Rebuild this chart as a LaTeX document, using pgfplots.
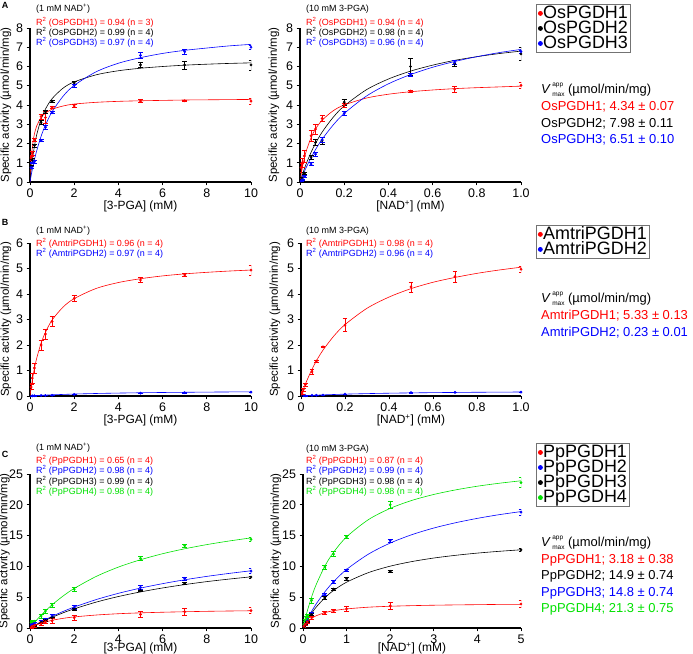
\documentclass[border=0pt]{standalone}
\usepackage{pgfplots}
\pgfplotsset{compat=1.18}
\usepackage{fontspec}
\setmainfont{Liberation Sans}
\definecolor{gr}{RGB}{0,225,0}
\newcommand\tl{\fontsize{12.5}{12.5}\selectfont}
\newcommand\lb{\fontsize{12}{12}\selectfont}
\newcommand\an{\fontsize{9}{9}\selectfont}
\newcommand\vm{\fontsize{13}{13}\selectfont}
\newcommand\sm{\fontsize{6.5}{6.5}\selectfont}
\newcommand\Vapp{\textit{V}\kern1.5pt\makebox[0pt][l]{\raisebox{6.3pt}{\sm app}}\raisebox{-3.5pt}{\sm max}}
\pgfplotsset{
 base/.style={scale only axis, anchor=south west, axis x line*=bottom, axis y line*=left,
  axis line style={line width=1.5pt}, every tick/.style={black, line width=0.9pt},
  tick align=outside, major tick length=3.5pt, xmin=0, ymin=0,
  tick label style={font=\tl},
  xlabel style={font=\lb, yshift=4bp},
  ylabel style={font=\fontsize{11.5}{11.5}\selectfont}},
 dat/.style={only marks, mark=*, mark size=1.2pt, color=#1, forget plot,
  error bars/.cd, y dir=both, y explicit, error bar style={line width=0.5pt, #1},
  error mark=-, error mark options={rotate=90, line width=0.5pt, mark size=2.5pt, #1}},
 fit/.style={no markers, color=#1, line width=0.6pt, smooth, forget plot},
 leg/.style={legend style={draw=black!55, line width=0.8pt, font=\fontsize{18}{18}\selectfont,
  inner xsep=2pt, inner ysep=1.5pt, row sep=0pt, anchor=north west,
  nodes={inner sep=0.8pt, text height=12pt, text depth=1.5pt}},
  legend cell align=left,
  legend image code/.code={\draw[mark repeat=2,mark phase=2,##1] plot coordinates {(0pt,0pt) (5pt,0pt) (10pt,0pt)};}},
}
\begin{document}
\begin{tikzpicture}
\path[use as bounding box] (0bp,0bp) rectangle (693bp,-654bp);
% ---------------- A left
\begin{axis}[base, at={(30bp,-182bp)}, width=221bp, height=154bp, xmax=10, ymax=8,
 xtick={0,2,4,6,8,10}, xticklabels={0,2,4,6,8,10}, ytick={0,1,2,3,4,5,6,7,8}, yticklabels={0,1,2,3,4,5,6,7,8},
 xlabel={[3-PGA] (mM)}, ylabel={Specific activity (µmol/min/mg)}, ylabel shift=-2bp]
\addplot[fit=red] coordinates {(0,0) (0.02,0.51) (0.05,1.09) (0.1,1.74) (0.15,2.18) (0.2,2.49) (0.3,2.90) (0.5,3.35) (0.7,3.58) (1,3.78) (1.5,3.95) (2,4.05) (3,4.14) (4,4.19) (5,4.22) (6,4.24) (7,4.26) (8,4.27) (9,4.28) (10,4.29)};
\addplot[fit=black] coordinates {(0,0) (0.05,0.59) (0.1,1.08) (0.2,1.86) (0.3,2.44) (0.5,3.25) (0.7,3.79) (1,4.33) (1.5,4.88) (2,5.2) (3,5.57) (4,5.78) (5,5.91) (6,6.0) (7,6.07) (8,6.12) (9,6.16) (10,6.19)};
\addplot[fit=blue] coordinates {(0,0) (0.05,0.32) (0.1,0.62) (0.2,1.15) (0.3,1.61) (0.5,2.37) (0.7,2.96) (1,3.65) (1.5,4.46) (2,5.02) (3,5.73) (4,6.17) (5,6.46) (6,6.68) (7,6.84) (8,6.96) (9,7.07) (10,7.15)};
\addplot[dat=red] table[row sep=\\, x index=0, y index=1, y error index=2] {
0.05 1.25 0.1\\ 0.1 1.5 0.1\\ 0.2 2.2 0.08\\ 0.5 3.4 0.12\\ 0.7 3.35 0.3\\ 1 3.88 0.05\\ 2 3.95 0.08\\ 5 4.2 0.08\\ 7 4.22 0.04\\ 10 4.2 0.15\\};
\addplot[dat=black] table[row sep=\\, x index=0, y index=1, y error index=2] {
0.05 0.8 0.08\\ 0.1 1.15 0.1\\ 0.2 1.9 0.08\\ 0.5 3.1 0.1\\ 0.7 3.65 0.08\\ 1 4.2 0.05\\ 2 5.15 0.08\\ 5 6.08 0.12\\ 7 6.08 0.2\\ 10 6.08 0.25\\};
\addplot[dat=blue] table[row sep=\\, x index=0, y index=1, y error index=2] {
0.05 0.75 0.06\\ 0.1 1.0 0.05\\ 0.2 1.05 0.06\\ 0.5 2.15 0.05\\ 0.7 2.85 0.1\\ 1 3.6 0.05\\ 2 5.02 0.08\\ 5 6.58 0.15\\ 7 6.77 0.12\\ 10 7.0 0.1\\};
\end{axis}
% ---------------- A right
\begin{axis}[base, leg, legend style={at={(rel axis cs:1.068,1.156)}}, at={(300bp,-182bp)}, width=221bp, height=154bp, xmax=1, ymax=8,
 xtick={0,0.2,0.4,0.6,0.8,1}, xticklabels={0,0.2,0.4,0.6,0.8,1.0}, ytick={0,1,2,3,4,5,6,7,8}, yticklabels={0,1,2,3,4,5,6,7,8},
 xlabel={[NAD\textsuperscript{+}] (mM)}, ylabel={Specific activity (µmol/min/mg)}]
\addlegendimage{only marks, mark=*, mark size=2pt, red}\addlegendentry{OsPGDH1}
\addlegendimage{only marks, mark=*, mark size=2pt, black}\addlegendentry{OsPGDH2}
\addlegendimage{only marks, mark=*, mark size=2pt, blue}\addlegendentry{OsPGDH3}
\addplot[fit=red] coordinates {(0,0) (0.01,0.71) (0.02,1.25) (0.03,1.67) (0.05,2.30) (0.07,2.75) (0.1,3.21) (0.15,3.70) (0.2,4.0) (0.3,4.36) (0.4,4.56) (0.5,4.69) (0.6,4.78) (0.7,4.85) (0.8,4.90) (0.9,4.94) (1.0,4.98)};
\addplot[fit=black] coordinates {(0,0) (0.01,0.36) (0.02,0.69) (0.03,1.0) (0.05,1.54) (0.07,2.0) (0.1,2.59) (0.15,3.36) (0.2,3.95) (0.3,4.79) (0.4,5.35) (0.5,5.76) (0.6,6.07) (0.7,6.32) (0.8,6.51) (0.9,6.67) (1.0,6.80)};
\addplot[fit=blue] coordinates {(0,0) (0.01,0.28) (0.02,0.55) (0.03,0.80) (0.05,1.26) (0.07,1.68) (0.1,2.22) (0.15,2.96) (0.2,3.56) (0.3,4.46) (0.4,5.10) (0.5,5.58) (0.6,5.96) (0.7,6.26) (0.8,6.51) (0.9,6.72) (1.0,6.89)};
\addplot[dat=red] table[row sep=\\, x index=0, y index=1, y error index=2] {
0.005 0.75 0.25\\ 0.01 1.0 0.25\\ 0.02 1.35 0.3\\ 0.05 2.4 0.3\\ 0.07 2.75 0.25\\ 0.1 3.3 0.15\\ 0.2 4.0 0.1\\ 0.5 4.72 0.05\\ 0.7 4.82 0.15\\ 1.0 5.02 0.15\\};
\addplot[dat=black] table[row sep=\\, x index=0, y index=1, y error index=2] {
0.005 0.1 0.05\\ 0.01 0.2 0.05\\ 0.02 0.45 0.05\\ 0.05 1.3 0.1\\ 0.07 2.05 0.15\\ 0.1 2.15 0.2\\ 0.2 4.15 0.15\\ 0.5 6.0 0.45\\ 0.7 6.15 0.15\\ 1.0 6.65 0.35\\};
\addplot[dat=blue] table[row sep=\\, x index=0, y index=1, y error index=2] {
0.005 0.05 0.03\\ 0.01 0.12 0.03\\ 0.02 0.28 0.05\\ 0.05 0.93 0.08\\ 0.07 1.45 0.1\\ 0.1 2.2 0.15\\ 0.2 3.57 0.08\\ 0.5 5.55 0.08\\ 0.7 6.22 0.12\\ 1.0 6.77 0.1\\};
\end{axis}
% ---------------- B left
\begin{axis}[base, at={(30bp,-396bp)}, width=221bp, height=153bp, xmax=10, ymax=6,
 xtick={0,2,4,6,8,10}, xticklabels={0,2,4,6,8,10}, ytick={0,1,2,3,4,5,6}, yticklabels={0,1,2,3,4,5,6},
 xlabel={[3-PGA] (mM)}, ylabel={Specific activity (µmol/min/mg)}, ylabel shift=-2bp]
\addplot[fit=red] coordinates {(0,0) (0.05,0.32) (0.1,0.60) (0.2,1.08) (0.3,1.47) (0.5,2.07) (0.7,2.50) (1,2.98) (1.5,3.49) (2,3.82) (3,4.22) (4,4.45) (5,4.60) (6,4.71) (7,4.79) (8,4.85) (9,4.90) (10,4.94)};
\addplot[fit=blue] coordinates {(0,0) (0.1,0.006) (0.2,0.011) (0.5,0.026) (1,0.046) (2,0.077) (3,0.099) (4,0.115) (5,0.128) (6,0.138) (7,0.146) (8,0.153) (9,0.159) (10,0.164)};
\addplot[dat=red] table[row sep=\\, x index=0, y index=1, y error index=2] {
0.05 0.35 0.1\\ 0.1 0.7 0.2\\ 0.2 1.1 0.2\\ 0.5 2.0 0.2\\ 0.7 2.43 0.2\\ 1 2.92 0.2\\ 2 3.83 0.12\\ 5 4.55 0.1\\ 7 4.75 0.07\\ 10 4.94 0.2\\};
\addplot[dat=blue] table[row sep=\\, x index=0, y index=1, y error index=2] {
0.1 0.005 0.005\\ 0.2 0.01 0.005\\ 0.5 0.02 0.005\\ 0.7 0.02 0.005\\ 1 0.03 0.01\\ 2 0.06 0.01\\ 5 0.11 0.01\\ 7 0.13 0.01\\ 10 0.15 0.01\\};
\end{axis}
% ---------------- B right
\begin{axis}[base, leg, legend style={at={(rel axis cs:1.068,1.118)}}, at={(301bp,-396bp)}, width=220bp, height=153bp, xmax=1, ymax=6,
 xtick={0,0.2,0.4,0.6,0.8,1}, xticklabels={0,0.2,0.4,0.6,0.8,1.0}, ytick={0,1,2,3,4,5,6}, yticklabels={0,1,2,3,4,5,6},
 xlabel={[NAD\textsuperscript{+}] (mM)}, ylabel={Specific activity (µmol/min/mg)}]
\addlegendimage{only marks, mark=*, mark size=2pt, red}\addlegendentry{AmtriPGDH1}
\addlegendimage{only marks, mark=*, mark size=2pt, blue}\addlegendentry{AmtriPGDH2}
\addplot[fit=red] coordinates {(0,0) (0.01,0.24) (0.02,0.47) (0.03,0.67) (0.05,1.05) (0.07,1.38) (0.1,1.80) (0.15,2.36) (0.2,2.80) (0.3,3.44) (0.4,3.88) (0.5,4.21) (0.6,4.46) (0.7,4.65) (0.8,4.81) (0.9,4.94) (1.0,5.05)};
\addplot[fit=blue] coordinates {(0,0) (0.02,0.011) (0.05,0.024) (0.1,0.044) (0.2,0.073) (0.3,0.094) (0.4,0.11) (0.5,0.122) (0.6,0.132) (0.7,0.14) (0.8,0.147) (0.9,0.152) (1.0,0.157)};
\addplot[dat=red] table[row sep=\\, x index=0, y index=1, y error index=2] {
0.005 0.12 0.05\\ 0.01 0.25 0.05\\ 0.02 0.45 0.05\\ 0.05 0.95 0.1\\ 0.07 1.37 0.05\\ 0.1 1.93 0.03\\ 0.2 2.78 0.25\\ 0.5 4.28 0.2\\ 0.7 4.68 0.2\\ 1.0 4.97 0.1\\};
\addplot[dat=blue] table[row sep=\\, x index=0, y index=1, y error index=2] {
0.02 0.01 0.005\\ 0.05 0.025 0.005\\ 0.07 0.03 0.005\\ 0.1 0.04 0.005\\ 0.2 0.07 0.01\\ 0.5 0.13 0.01\\ 0.7 0.14 0.01\\ 1.0 0.15 0.01\\};
\end{axis}
% ---------------- C left
\begin{axis}[base, at={(30bp,-628bp)}, width=221bp, height=154bp, xmax=10, ymax=25,
 xtick={0,2,4,6,8,10}, xticklabels={0,2,4,6,8,10}, ytick={0,5,10,15,20,25}, yticklabels={0,5,10,15,20,25},
 xlabel={[3-PGA] (mM)}, ylabel={Specific activity (µmol/min/mg)}, xlabel style={yshift=4bp}, ylabel shift=-7.5bp]
\addplot[fit=gr] coordinates {(0,0) (0.1,0.45) (0.2,0.88) (0.5,2.07) (1,3.77) (1.5,5.20) (2,6.42) (3,8.38) (4,9.89) (5,11.08) (6,12.06) (7,12.86) (8,13.54) (9,14.12) (10,14.63)};
\addplot[fit=blue] coordinates {(0,0) (0.1,0.21) (0.2,0.42) (0.5,1.0) (1,1.89) (1.5,2.69) (2,3.40) (3,4.62) (4,5.63) (5,6.48) (6,7.20) (7,7.83) (8,8.38) (9,8.86) (10,9.29)};
\addplot[fit=black] coordinates {(0,0) (0.1,0.20) (0.2,0.39) (0.5,0.93) (1,1.74) (1.5,2.47) (2,3.11) (3,4.21) (4,5.11) (5,5.86) (6,6.50) (7,7.05) (8,7.53) (9,7.94) (10,8.31)};
\addplot[fit=red] coordinates {(0,0) (0.1,0.19) (0.2,0.36) (0.5,0.77) (1,1.25) (1.5,1.57) (2,1.80) (3,2.11) (4,2.32) (5,2.46) (6,2.56) (7,2.64) (8,2.71) (9,2.76) (10,2.80)};
\addplot[dat=gr] table[row sep=\\, x index=0, y index=1, y error index=2] {
0.05 0.9 0.2\\ 0.1 1.0 0.2\\ 0.2 1.1 0.2\\ 0.5 1.95 0.3\\ 0.7 2.76 0.3\\ 1 3.68 0.3\\ 2 6.3 0.3\\ 5 11.3 0.3\\ 7 13.37 0.3\\ 10 14.4 0.3\\};
\addplot[dat=blue] table[row sep=\\, x index=0, y index=1, y error index=2] {
0.05 0.5 0.2\\ 0.1 0.6 0.2\\ 0.2 0.7 0.2\\ 0.5 1.1 0.2\\ 0.7 1.4 0.2\\ 1 1.95 0.3\\ 2 3.35 0.3\\ 5 6.6 0.3\\ 7 8.06 0.25\\ 10 9.25 0.4\\};
\addplot[dat=black] table[row sep=\\, x index=0, y index=1, y error index=2] {
0.05 0.15 0.05\\ 0.1 0.2 0.05\\ 0.2 0.4 0.1\\ 0.5 0.9 0.1\\ 0.7 1.25 0.1\\ 1 1.68 0.1\\ 2 3.03 0.15\\ 5 6.06 0.15\\ 7 7.2 0.15\\ 10 8.28 0.15\\};
\addplot[dat=red] table[row sep=\\, x index=0, y index=1, y error index=2] {
0.05 0.1 0.1\\ 0.1 0.25 0.15\\ 0.2 0.4 0.2\\ 0.5 0.7 0.3\\ 0.7 1.0 0.3\\ 1 1.19 0.4\\ 2 1.68 0.4\\ 5 2.22 0.5\\ 7 2.65 0.5\\ 10 2.82 0.5\\};
\end{axis}
% ---------------- C right
\begin{axis}[base, leg, legend style={at={(rel axis cs:1.069,1.201)}}, at={(303bp,-628bp)}, width=218bp, height=154bp, xmax=5, ymax=25,
 xtick={0,1,2,3,4,5}, xticklabels={0,1,2,3,4,5}, ytick={0,5,10,15,20,25}, yticklabels={0,5,10,15,20,25},
 xlabel={[NAD\textsuperscript{+}] (mM)}, ylabel={Specific activity (µmol/min/mg)}, xlabel style={yshift=4bp}, ylabel shift=-6bp]
\addlegendimage{only marks, mark=*, mark size=2pt, red}\addlegendentry{PpPGDH1}
\addlegendimage{only marks, mark=*, mark size=2pt, blue}\addlegendentry{PpPGDH2}
\addlegendimage{only marks, mark=*, mark size=2pt, black}\addlegendentry{PpPGDH3}
\addlegendimage{only marks, mark=*, mark size=2pt, gr}\addlegendentry{PpPGDH4}
\addplot[fit=gr] coordinates {(0,0) (0.05,1.47) (0.1,2.80) (0.2,5.10) (0.3,7.01) (0.5,10.03) (0.7,12.29) (1,14.8) (1.5,17.59) (2,19.42) (2.5,20.72) (3,21.68) (3.5,22.42) (4,23.02) (4.5,23.50) (5,23.90)};
\addplot[fit=blue] coordinates {(0,0) (0.05,0.74) (0.1,1.44) (0.2,2.73) (0.3,3.88) (0.5,5.86) (0.7,7.51) (1,9.51) (1.5,11.99) (2,13.79) (2.5,15.16) (3,16.23) (3.5,17.09) (4,17.80) (4.5,18.40) (5,18.90)};
\addplot[fit=black] coordinates {(0,0) (0.05,0.69) (0.1,1.31) (0.2,2.42) (0.3,3.37) (0.5,4.90) (0.7,6.09) (1,7.44) (1.5,8.99) (2,10.04) (2.5,10.79) (3,11.36) (3.5,11.80) (4,12.16) (4.5,12.45) (5,12.70)};
\addplot[fit=red] coordinates {(0,0) (0.05,0.55) (0.1,0.97) (0.2,1.57) (0.3,1.98) (0.5,2.49) (0.7,2.81) (1,3.10) (1.5,3.38) (2,3.53) (2.5,3.63) (3,3.70) (3.5,3.75) (4,3.79) (4.5,3.83) (5,3.85)};
\addplot[dat=gr] table[row sep=\\, x index=0, y index=1, y error index=2] {
0.02 0.6 0.2\\ 0.05 1.3 0.2\\ 0.07 1.7 0.2\\ 0.1 2.0 0.2\\ 0.2 4.5 0.4\\ 0.5 9.9 0.3\\ 0.7 12.0 0.4\\ 1 14.8 0.2\\ 2 20.0 0.6\\ 5 23.6 0.8\\};
\addplot[dat=blue] table[row sep=\\, x index=0, y index=1, y error index=2] {
0.02 0.3 0.1\\ 0.05 0.6 0.1\\ 0.1 1.2 0.1\\ 0.2 2.3 0.2\\ 0.5 5.5 0.2\\ 0.7 7.5 0.2\\ 1 9.4 0.2\\ 2 14.2 0.2\\ 5 18.8 0.5\\};
\addplot[dat=black] table[row sep=\\, x index=0, y index=1, y error index=2] {
0.02 0.2 0.1\\ 0.05 0.5 0.1\\ 0.1 1.0 0.1\\ 0.2 2.2 0.2\\ 0.5 4.9 0.2\\ 0.7 6.3 0.2\\ 1 8.0 0.2\\ 2 9.2 0.2\\ 5 12.7 0.3\\};
\addplot[dat=red] table[row sep=\\, x index=0, y index=1, y error index=2] {
0.02 0.3 0.1\\ 0.05 0.6 0.1\\ 0.1 1.0 0.2\\ 0.2 1.7 0.2\\ 0.5 2.5 0.3\\ 0.7 2.8 0.2\\ 1 3.1 0.4\\ 2 3.6 0.6\\ 5 3.9 0.6\\};
\end{axis}
% ---------------- annotations
\begin{scope}[every node/.style={anchor=west, inner sep=0pt, font=\an}]
\node at (36bp,-9bp) {(1 mM NAD\textsuperscript{+})};
\node[red] at (36bp,-22.5bp) {R\textsuperscript{2} (OsPGDH1) = 0.94 (n = 3)};
\node at (36bp,-32.5bp) {R\textsuperscript{2} (OsPGDH2) = 0.99 (n = 4)};
\node[blue] at (36bp,-42.5bp) {R\textsuperscript{2} (OsPGDH3) = 0.97 (n = 4)};
\node at (306bp,-9bp) {(10 mM 3-PGA)};
\node[red] at (306bp,-22.5bp) {R\textsuperscript{2} (OsPGDH1) = 0.94 (n = 4)};
\node at (306bp,-32.5bp) {R\textsuperscript{2} (OsPGDH2) = 0.98 (n = 4)};
\node[blue] at (306bp,-42.5bp) {R\textsuperscript{2} (OsPGDH3) = 0.96 (n = 4)};
\node at (36bp,-231bp) {(1 mM NAD\textsuperscript{+})};
\node[red] at (36bp,-243bp) {R\textsuperscript{2} (AmtriPGDH1) = 0.96 (n = 4)};
\node[blue] at (36bp,-253bp) {R\textsuperscript{2} (AmtriPGDH2) = 0.97 (n = 4)};
\node at (306bp,-231bp) {(10 mM 3-PGA)};
\node[red] at (306bp,-243bp) {R\textsuperscript{2} (AmtriPGDH1) = 0.98 (n = 4)};
\node[blue] at (306bp,-253bp) {R\textsuperscript{2} (AmtriPGDH2) = 0.96 (n = 4)};
\node at (36bp,-448bp) {(1 mM NAD\textsuperscript{+})};
\node[red] at (36bp,-460bp) {R\textsuperscript{2} (PpPGDH1) = 0.65 (n = 4)};
\node[blue] at (36bp,-470.5bp) {R\textsuperscript{2} (PpPGDH2) = 0.98 (n = 4)};
\node at (36bp,-481bp) {R\textsuperscript{2} (PpPGDH3) = 0.99 (n = 4)};
\node[gr] at (36bp,-491.5bp) {R\textsuperscript{2} (PpPGDH4) = 0.98 (n = 4)};
\node at (306bp,-449bp) {(10 mM 3-PGA)};
\node[red] at (306bp,-460bp) {R\textsuperscript{2} (PpPGDH1) = 0.87 (n = 4)};
\node[blue] at (306bp,-470.5bp) {R\textsuperscript{2} (PpPGDH2) = 0.99 (n = 4)};
\node at (306bp,-481bp) {R\textsuperscript{2} (PpPGDH3) = 0.98 (n = 4)};
\node[gr] at (306bp,-491.5bp) {R\textsuperscript{2} (PpPGDH4) = 0.98 (n = 4)};
\end{scope}
\begin{scope}[every node/.style={font=\bfseries\fontsize{9}{9}\selectfont, inner sep=0pt}]
\node at (5bp,-5bp) {A};
\node at (5bp,-222bp) {B};
\node at (5bp,-454bp) {C};
\end{scope}
\begin{scope}[every node/.style={anchor=west, inner sep=0pt, font=\vm}]
\node at (541bp,-90bp) {\Vapp\ (µmol/min/mg)};
\node[red] at (541bp,-107bp) {OsPGDH1; 4.34 ± 0.07};
\node at (541bp,-123.5bp) {OsPGDH2; 7.98 ± 0.11};
\node[blue] at (541bp,-140bp) {OsPGDH3; 6.51 ± 0.10};
\node at (541bp,-299bp) {\Vapp\ (µmol/min/mg)};
\node[red] at (541bp,-316bp) {AmtriPGDH1; 5.33 ± 0.13};
\node[blue] at (541bp,-332.5bp) {AmtriPGDH2; 0.23 ± 0.01};
\node at (541bp,-543bp) {\Vapp\ (µmol/min/mg)};
\node[red] at (541bp,-560bp) {PpPGDH1; 3.18 ± 0.38};
\node at (541bp,-576.5bp) {PpPGDH2; 14.9 ± 0.74};
\node[blue] at (541bp,-593bp) {PpPGDH3; 14.8 ± 0.74};
\node[gr] at (541bp,-609.5bp) {PpPGDH4; 21.3 ± 0.75};
\end{scope}
\end{tikzpicture}
\end{document}
